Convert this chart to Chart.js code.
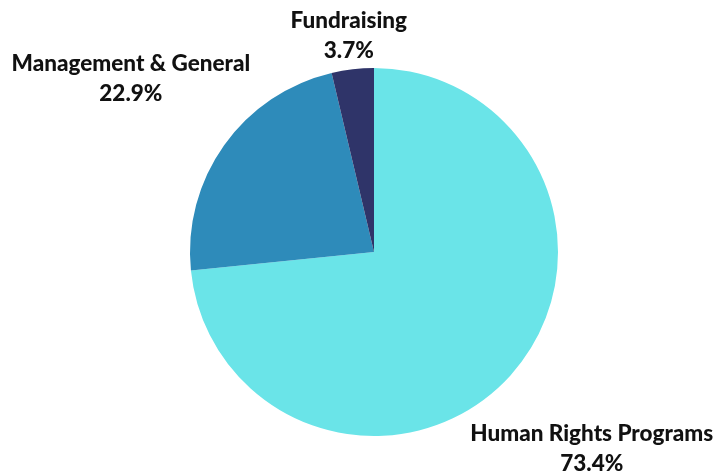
<!DOCTYPE html>
<html>
<head>
<meta charset="utf-8">
<script src="https://cdn.jsdelivr.net/npm/chart.js@4.4.1/dist/chart.umd.min.js"></script>
<style>
  html, body { margin: 0; padding: 0; background: #fff; }
  #wrap { width: 727px; height: 473px; }
</style>
</head>
<body>
<div id="wrap"><canvas id="chart"></canvas></div>
<script>
const categories = ['Human Rights Programs', 'Management & General', 'Fundraising']
const shares = [73.4, 22.9, 3.7]
const sliceColors = ['#6ae4e8', '#2e8bba', '#2f3469']

// draws "name / pct%" outside each slice, box pushed outward along the mid angle
const outsideLabels = {
  id: 'outsideLabels',
  afterDatasetsDraw(chart) {
    const { ctx } = chart
    const meta = chart.getDatasetMeta(0)
    ctx.save()
    ctx.font = '900 22.5px Lato'
    ctx.fillStyle = '#111'
    ctx.textAlign = 'center'
    ctx.textBaseline = 'middle'
    const lineGap = 30
    meta.data.forEach((arc, i) => {
      const mid = (arc.startAngle + arc.endAngle) / 2
      const dx = Math.cos(mid)
      const dy = Math.sin(mid)
      const lines = [categories[i], shares[i].toFixed(1) + '%']
      const w = Math.max(...lines.map((t) => ctx.measureText(t).width))
      const h = 46
      const push = Math.abs(dx) * w / 2 + Math.abs(dy) * h / 2
      const r = arc.outerRadius + 4 + push
      const cx = arc.x + dx * r
      const cy = arc.y + dy * r
      lines.forEach((t, k) => {
        ctx.fillText(t, cx, cy + (k - 0.5) * lineGap)
      })
    })
    ctx.restore()
  },
}

new Chart(document.getElementById('chart'), {
  type: 'pie',
  data: {
    labels: categories,
    datasets: [
      {
        data: shares,
        backgroundColor: sliceColors,
        borderWidth: 0,
      },
    ],
  },
  options: {
    responsive: true,
    maintainAspectRatio: false,
    animation: false,
    layout: {
      padding: { top: 68, bottom: 37, left: 21, right: 0 },
    },
    plugins: {
      legend: { display: false },
      tooltip: { enabled: false },
    },
  },
  plugins: [outsideLabels],
})
</script>
</body>
</html>
